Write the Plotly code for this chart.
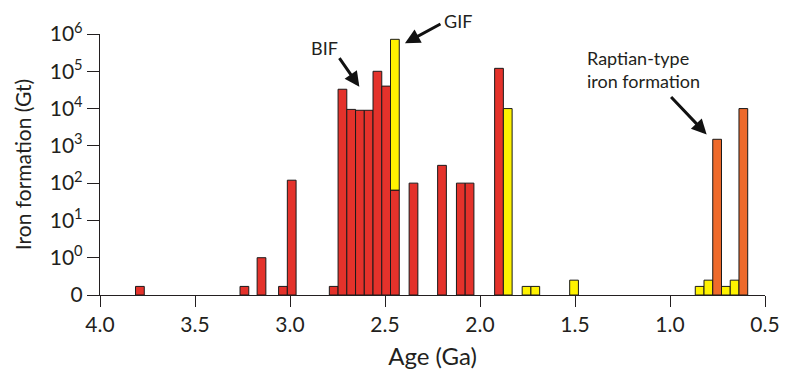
import plotly.graph_objects as go

# ---- data (age in Ga, iron formation in Gt) ----
red_age = [3.79, 3.24, 3.15, 3.037, 2.991, 2.770, 2.724, 2.678, 2.632, 2.586,
           2.540, 2.494, 2.448, 2.35, 2.20, 2.101, 2.055, 1.90]
red_gt = [0.17, 0.17, 1, 0.17, 120, 0.17, 33000, 9500, 9000, 9000,
          100000, 40000, 65, 100, 300, 100, 100, 120000]

yellow_age = [2.448, 1.854, 1.755, 1.709, 1.505, 0.844, 0.798, 0.706, 0.660]
yellow_gt = [720000, 10000, 0.17, 0.17, 0.25, 0.17, 0.25, 0.17, 0.25]
yellow_base = [65, 0.1, 0.1, 0.1, 0.1, 0.1, 0.1, 0.1, 0.1]

orange_age = [0.752, 0.614]
orange_gt = [1500, 10000]

tick_vals = [0.1, 1, 10, 100, 1e3, 1e4, 1e5, 1e6]
tick_text = ["0", "10<sup>0</sup>", "10<sup>1</sup>", "10<sup>2</sup>", "10<sup>3</sup>",
             "10<sup>4</sup>", "10<sup>5</sup>", "10<sup>6</sup>"]
x_ticks = [4.0, 3.5, 3.0, 2.5, 2.0, 1.5, 1.0, 0.5]
x_text = ["4.0", "3.5", "3.0", "2.5", "2.0", "1.5", "1.0", "0.5"]

FLOOR = 0.1
BW = 0.046
FONT = "Lato"
INK = "#231f20"

fig = go.Figure()
line = dict(color="#1a1a1a", width=1)

fig.add_trace(go.Bar(x=red_age, y=[v - FLOOR for v in red_gt], base=[FLOOR] * len(red_gt),
                     width=BW, marker=dict(color="#E4322B", line=line), name="BIF"))
fig.add_trace(go.Bar(x=yellow_age, y=[v - b for v, b in zip(yellow_gt, yellow_base)],
                     base=yellow_base, width=BW,
                     marker=dict(color="#FFF200", line=line), name="GIF"))
fig.add_trace(go.Bar(x=orange_age, y=[v - FLOOR for v in orange_gt], base=[FLOOR] * len(orange_gt),
                     width=BW, marker=dict(color="#EE6A2B", line=line), name="Raptian"))

fig.update_layout(
    width=785, height=372,
    margin=dict(l=100, r=20, t=34, b=77.4),
    paper_bgcolor="white", plot_bgcolor="white",
    barmode="overlay", showlegend=False,
    font=dict(family=FONT, color=INK),
    xaxis=dict(range=[4.0, 0.5], tickvals=x_ticks, ticktext=x_text, automargin=False,
               showgrid=False, zeroline=False, showline=True, linecolor=INK, linewidth=1.3,
               ticks="outside", ticklen=11, tickwidth=1.3, tickcolor=INK,
               tickfont=dict(size=21, family=FONT, color=INK),
               title=dict(text="Age (Ga)", font=dict(size=24, family=FONT, color=INK), standoff=12)),
    yaxis=dict(type="log", range=[-1, 6], tickvals=tick_vals, ticktext=tick_text, automargin=False,
               showgrid=False, zeroline=False, showline=True, linecolor=INK, linewidth=1.3,
               ticks="outside", ticklen=12, tickwidth=1.3, tickcolor=INK,
               tickfont=dict(size=21, family=FONT, color=INK),
               title=dict(text="Iron formation (Gt)", font=dict(size=21, family=FONT, color=INK),
                          standoff=12)),
)

arrow = dict(showarrow=True, arrowhead=2, arrowsize=1, arrowwidth=3, arrowcolor="#111",
             text="", axref="pixel", ayref="pixel", xref="x", yref="y")
fig.add_annotation(x=2.635, y=4.586, ax=-21, ay=-30, **arrow)
fig.add_annotation(x=2.395, y=5.753, ax=37, ay=-20, **arrow)
fig.add_annotation(x=0.807, y=3.306, ax=-37, ay=-39, **arrow)

txt = dict(showarrow=False, font=dict(size=18, family=FONT, color=INK))
fig.add_annotation(x=2.821, y=5.626, xref="x", yref="y", text="BIF", **txt)
fig.add_annotation(x=2.116, y=1.05, xref="x", yref="paper", yanchor="middle", text="GIF", **txt)
fig.add_annotation(x=1.447, y=5.035, xref="x", yref="y", text="Raptian-type<br>iron formation",
                   xanchor="left", align="left", **txt)

fig.write_html("out.html", config={"displayModeBar": False},
               post_script="document.body.style.margin='0';document.body.style.overflow='hidden';")
